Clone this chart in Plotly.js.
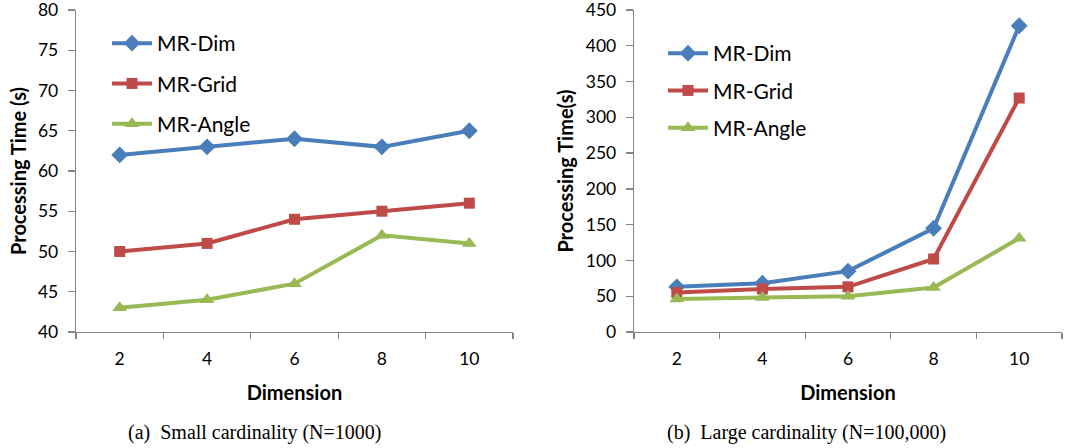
<!DOCTYPE html>
<html><head><meta charset="utf-8">
<script src="https://cdn.plot.ly/plotly-3.0.1.min.js"></script>
<style>html,body{margin:0;padding:0;background:#fff}#c{width:1073px;height:448px}</style>
</head><body><div id="c"></div><script>
const dimensions = ['2','4','6','8','10'];
const smallDim   = [62, 63, 64, 63, 65];
const smallGrid  = [50, 51, 54, 55, 56];
const smallAngle = [43, 44, 46, 52, 51];
const largeDim   = [63, 68, 85, 145, 428];
const largeGrid  = [55, 60, 63, 102, 327];
const largeAngle = [46, 48, 50, 62, 131];
const smallTicks = [40, 45, 50, 55, 60, 65, 70, 75, 80];
const largeTicks = [0, 50, 100, 150, 200, 250, 300, 350, 400, 450];
const seriesNames = ['MR-Dim', 'MR-Grid', 'MR-Angle'];
const captions = ['(a)  Small cardinality (N=1000)', '(b)  Large cardinality (N=100,000)'];
const yTitles = ['Processing Time (s)', 'Processing Time(s)'];
const xTitle = 'Dimension';

const colors = ['#4A7EBB', '#BE4B48', '#98B954'];
const symbols = ['diamond', 'square', 'triangle-up'];
const msizes = [13, 11, 13];
const FONT = 'Lato, "Open Sans", sans-serif';
const W = 1073, H = 448;

function mk(y, i, sub) {
  return {
    x: dimensions, y: y, name: seriesNames[i], type: 'scatter', mode: 'lines+markers',
    xaxis: sub ? 'x2' : 'x', yaxis: sub ? 'y2' : 'y',
    legend: sub ? 'legend2' : 'legend', legendgroup: (sub ? 'b' : 'a') + i,
    line: {color: colors[i], width: 4},
    marker: {color: colors[i], symbol: symbols[i], size: msizes[i]},
    hoverinfo: 'x+y+name'
  };
}
const data = [
  mk(smallDim, 0, 0), mk(smallGrid, 1, 0), mk(smallAngle, 2, 0),
  mk(largeDim, 0, 1), mk(largeGrid, 1, 1), mk(largeAngle, 2, 1)
];

const axisColor = '#868686';
function xax(d0, d1, anchor) {
  return {
    domain: [d0 / W, d1 / W], anchor: anchor, type: 'category', tickson: 'boundaries',
    range: [-0.5, 4.5], showline: true, linecolor: axisColor, linewidth: 1.3,
    ticks: 'outside', ticklen: 6, tickcolor: axisColor, tickwidth: 1.3,
    showgrid: false, zeroline: false, fixedrange: true,
    tickfont: {family: FONT, size: 17.5, color: '#000'},
    ticklabelstandoff: 11,
    title: {text: xTitle, font: {family: FONT, size: 20, color: '#000', weight: 'bold'}, standoff: 17}
  };
}
function yax(ticks, anchor, title) {
  const span = ticks[ticks.length - 1] - ticks[0];
  return {
    domain: [1 - 332 / H, 1 - 10 / H], anchor: anchor,
    range: [ticks[0] - span * 0.0002, ticks[ticks.length - 1] + span * 0.0002],
    tickmode: 'array', tickvals: ticks, ticklabeloverflow: 'allow',
    showline: true, linecolor: axisColor, linewidth: 1.3,
    ticks: 'outside', ticklen: 7, tickcolor: axisColor, tickwidth: 1.3,
    showgrid: false, zeroline: false, fixedrange: true,
    tickfont: {family: FONT, size: 17.5, color: '#000'},
    ticklabelstandoff: 6,
    title: {text: title, font: {family: FONT, size: 20, color: '#000', weight: 'bold'}, standoff: 6}
  };
}
const legFont = {family: FONT, size: 21, color: '#000'};
const layout = {
  width: W, height: H, margin: {l: 0, r: 0, t: 0, b: 0},
  paper_bgcolor: '#fff', plot_bgcolor: '#fff', showlegend: true,
  xaxis: xax(76, 513, 'y'), yaxis: yax(smallTicks, 'x', yTitles[0]),
  xaxis2: xax(634, 1062, 'y2'), yaxis2: yax(largeTicks, 'x2', yTitles[1]),
  legend: {x: 107 / W, y: 1 - 23 / H, xanchor: 'left', yanchor: 'top', font: legFont,
           bgcolor: 'rgba(0,0,0,0)', tracegroupgap: 10, itemwidth: 40},
  legend2: {x: 663 / W, y: 1 - 33 / H, xanchor: 'left', yanchor: 'top', font: legFont,
            bgcolor: 'rgba(0,0,0,0)', tracegroupgap: 7, itemwidth: 40},
  annotations: [
    {text: captions[0], x: 254 / W, y: 1 - 432 / H, xref: 'paper', yref: 'paper', showarrow: false,
     xanchor: 'center', yanchor: 'middle', font: {family: '"Liberation Serif", "Times New Roman", serif', size: 20, color: '#000'}},
    {text: captions[1], x: 806 / W, y: 1 - 432 / H, xref: 'paper', yref: 'paper', showarrow: false,
     xanchor: 'center', yanchor: 'middle', font: {family: '"Liberation Serif", "Times New Roman", serif', size: 20, color: '#000'}}
  ]
};
Plotly.newPlot('c', data, layout, {displayModeBar: false, staticPlot: true});
</script></body></html>
